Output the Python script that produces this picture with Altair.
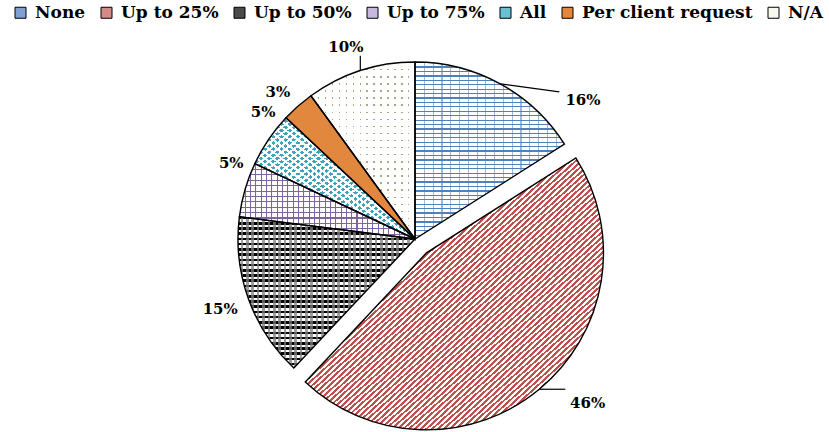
import math
import altair as alt
import pandas as pd

# ---- data -------------------------------------------------------------
categories = ["None", "Up to 25%", "Up to 50%", "Up to 75%", "All",
              "Per client request", "N/A"]
shares = [16, 46, 15, 5, 5, 3, 10]

# legend swatch colours (approximate tone of each hatch pattern)
swatch_colors = ["#7fa0d0", "#d58a88", "#4a4a4a", "#c9b8dd", "#6cc0d3",
                 "#e2883e", "#f8f8f0"]

# ---- layout -----------------------------------------------------------
CX, CY, R = 415, 239, 177
EXPLODED = "Up to 25%"
EXPLODE_DIST = 18
# label placement: radius (px) and angular nudge (deg) from the slice middle
label_radius = [218, 238, 207, 199, 198, 201, 204]
label_turn = [21.6, -6.9, 0.0, 6.4, 5.7, -1.6, -1.8]
# leader lines: category -> (dx, dy) from the slice's rim midpoint
leaders = {"None": (59, 8), "Up to 25%": (26, 0), "N/A": (0, -15)}

FONT = "DejaVu Serif"

# ---- derived table ------------------------------------------------------
ends = []
acc = 0
for v in shares:
    acc += v
    ends.append(acc)
starts = [e - v for e, v in zip(ends, shares)]
mids = [(s + e) / 2 for s, e in zip(starts, ends)]

df = pd.DataFrame({
    "category": categories,
    "share": shares,
    "start": starts,
    "end": ends,
    "mid": mids,
    "label": [f"{v}%" for v in shares],
    "label_theta": [m + t / 3.6 for m, t in zip(mids, label_turn)],
    "label_r": label_radius,
})


def center_of(cat):
    if cat != EXPLODED:
        return CX, CY
    m = math.radians(mids[categories.index(cat)] * 3.6)
    return CX + EXPLODE_DIST * math.sin(m), CY - EXPLODE_DIST * math.cos(m)


def arc_bbox(cat):
    i = categories.index(cat)
    a0, a1 = starts[i] * 3.6, ends[i] * 3.6
    angs = [a0, a1] + [a for a in (0, 90, 180, 270, 360) if a0 < a < a1]
    xs = [0.0] + [R * math.sin(math.radians(a)) for a in angs]
    ys = [0.0] + [-R * math.cos(math.radians(a)) for a in angs]
    return max(xs) - min(xs), max(ys) - min(ys)


def stripes(cat, direction, period, duty, fg, bg):
    w, h = arc_bbox(cat)
    if direction == "h":
        n, vec = h / period, (0, 0, 0, 1)
    elif direction == "v":
        n, vec = w / period, (0, 0, 1, 0)
    else:
        g = 0.5 * math.sqrt(1 / w ** 2 + 1 / h ** 2)
        n = 1 / (period * g)
        vec = (0, 0, 1, 1) if direction == "d1" else (1, 0, 0, 1)
    n = max(1, int(round(n)))
    stops = []
    for k in range(n):
        a, b, c = k / n, (k + duty) / n, (k + 1) / n
        stops += [{"offset": round(a, 5), "color": fg},
                  {"offset": round(b, 5), "color": fg},
                  {"offset": round(b, 5), "color": bg},
                  {"offset": round(c, 5), "color": bg}]
    return {"gradient": "linear", "x1": vec[0], "y1": vec[1],
            "x2": vec[2], "y2": vec[3], "stops": stops}


CLEAR = "rgba(255,255,255,0)"
patterns = {
    "None": [("h", 4.4, 0.28, "#4f81bd", "white"),
             ("v", 8.8, 0.13, "rgba(79,129,189,0.55)", CLEAR)],
    "Up to 25%": [("d1", 3.9, 0.5, "#c0504d", "white")],
    "Up to 50%": [("h", 5.3, 0.5, "black", "white"),
                  ("v", 5.3, 0.5, CLEAR, "rgba(128,128,128,0.75)")],
    "Up to 75%": [("h", 5.3, 0.2, "#8064a2", "white"),
                  ("v", 5.3, 0.2, "#8064a2", CLEAR)],
    "All": [("d1", 5.0, 0.58, "#3fa3bd", "white"),
            ("d2", 5.0, 0.58, CLEAR, "white")],
    "Per client request": [],
    "N/A": [("h", 7.0, 0.2, "#a8a888", "white"),
            ("v", 7.0, 0.2, CLEAR, "white")],
}

theta_scale = alt.Scale(domain=[0, 100], range=[0, 2 * math.pi])
color_scale = alt.Scale(domain=categories, range=swatch_colors)
legend = alt.Legend(
    title=None, orient="none", legendX=12, legendY=4, direction="horizontal",
    symbolType="square", symbolSize=121, symbolStrokeColor="black",
    symbolStrokeWidth=1, symbolOpacity=1, labelFont=FONT,
    labelFontWeight="bold", labelFontSize=17, labelColor="black",
    labelOffset=6, columnPadding=12, labelLimit=0,
)

base = alt.Chart(df)


def slice_arc(cat, **mark_kw):
    x, y = center_of(cat)
    return (base.transform_filter(alt.datum.category == cat)
            .mark_arc(radius=R, x=x, y=y, **mark_kw)
            .encode(theta=alt.Theta("start:Q", scale=theta_scale),
                    theta2="end:Q"))


layers = []
for cat in categories:
    layers.append(slice_arc(cat).encode(
        color=alt.Color("category:N", scale=color_scale, legend=legend)))
    for spec in patterns[cat]:
        layers.append(slice_arc(cat, fill=stripes(cat, *spec)))
for cat in categories:
    layers.append(slice_arc(cat, fillOpacity=0, stroke="black",
                            strokeWidth=1.4))

# leader lines from the rim midpoint of a slice
rows = []
for cat, (ddx, ddy) in leaders.items():
    i = categories.index(cat)
    cx, cy = center_of(cat)
    m = math.radians(mids[i] * 3.6)
    x0, y0 = cx + R * math.sin(m), cy - R * math.cos(m)
    rows.append({"x": x0, "y": y0, "x2": x0 + ddx, "y2": y0 + ddy})
leader_df = pd.DataFrame(rows)
layers.append(
    alt.Chart(leader_df).mark_rule(color="black", strokeWidth=1.2).encode(
        x=alt.X("x:Q", scale=None, axis=None),
        y=alt.Y("y:Q", scale=None, axis=None),
        x2="x2:Q", y2="y2:Q"))

layers.append(
    base.mark_text(x=CX, y=CY, font=FONT, fontWeight="bold", fontSize=15,
                   color="black", align="center", baseline="middle").encode(
        theta=alt.Theta("label_theta:Q", scale=theta_scale),
        radius=alt.Radius("label_r:Q", scale=None),
        text="label:N"))

chart = (alt.layer(*layers)
         .properties(width=829, height=432, padding=0,
                     autosize=alt.AutoSizeParams(type="none"),
                     background="white")
         .configure_view(stroke=None))

chart.save("out.html", embed_options={"renderer": "svg", "actions": False})
